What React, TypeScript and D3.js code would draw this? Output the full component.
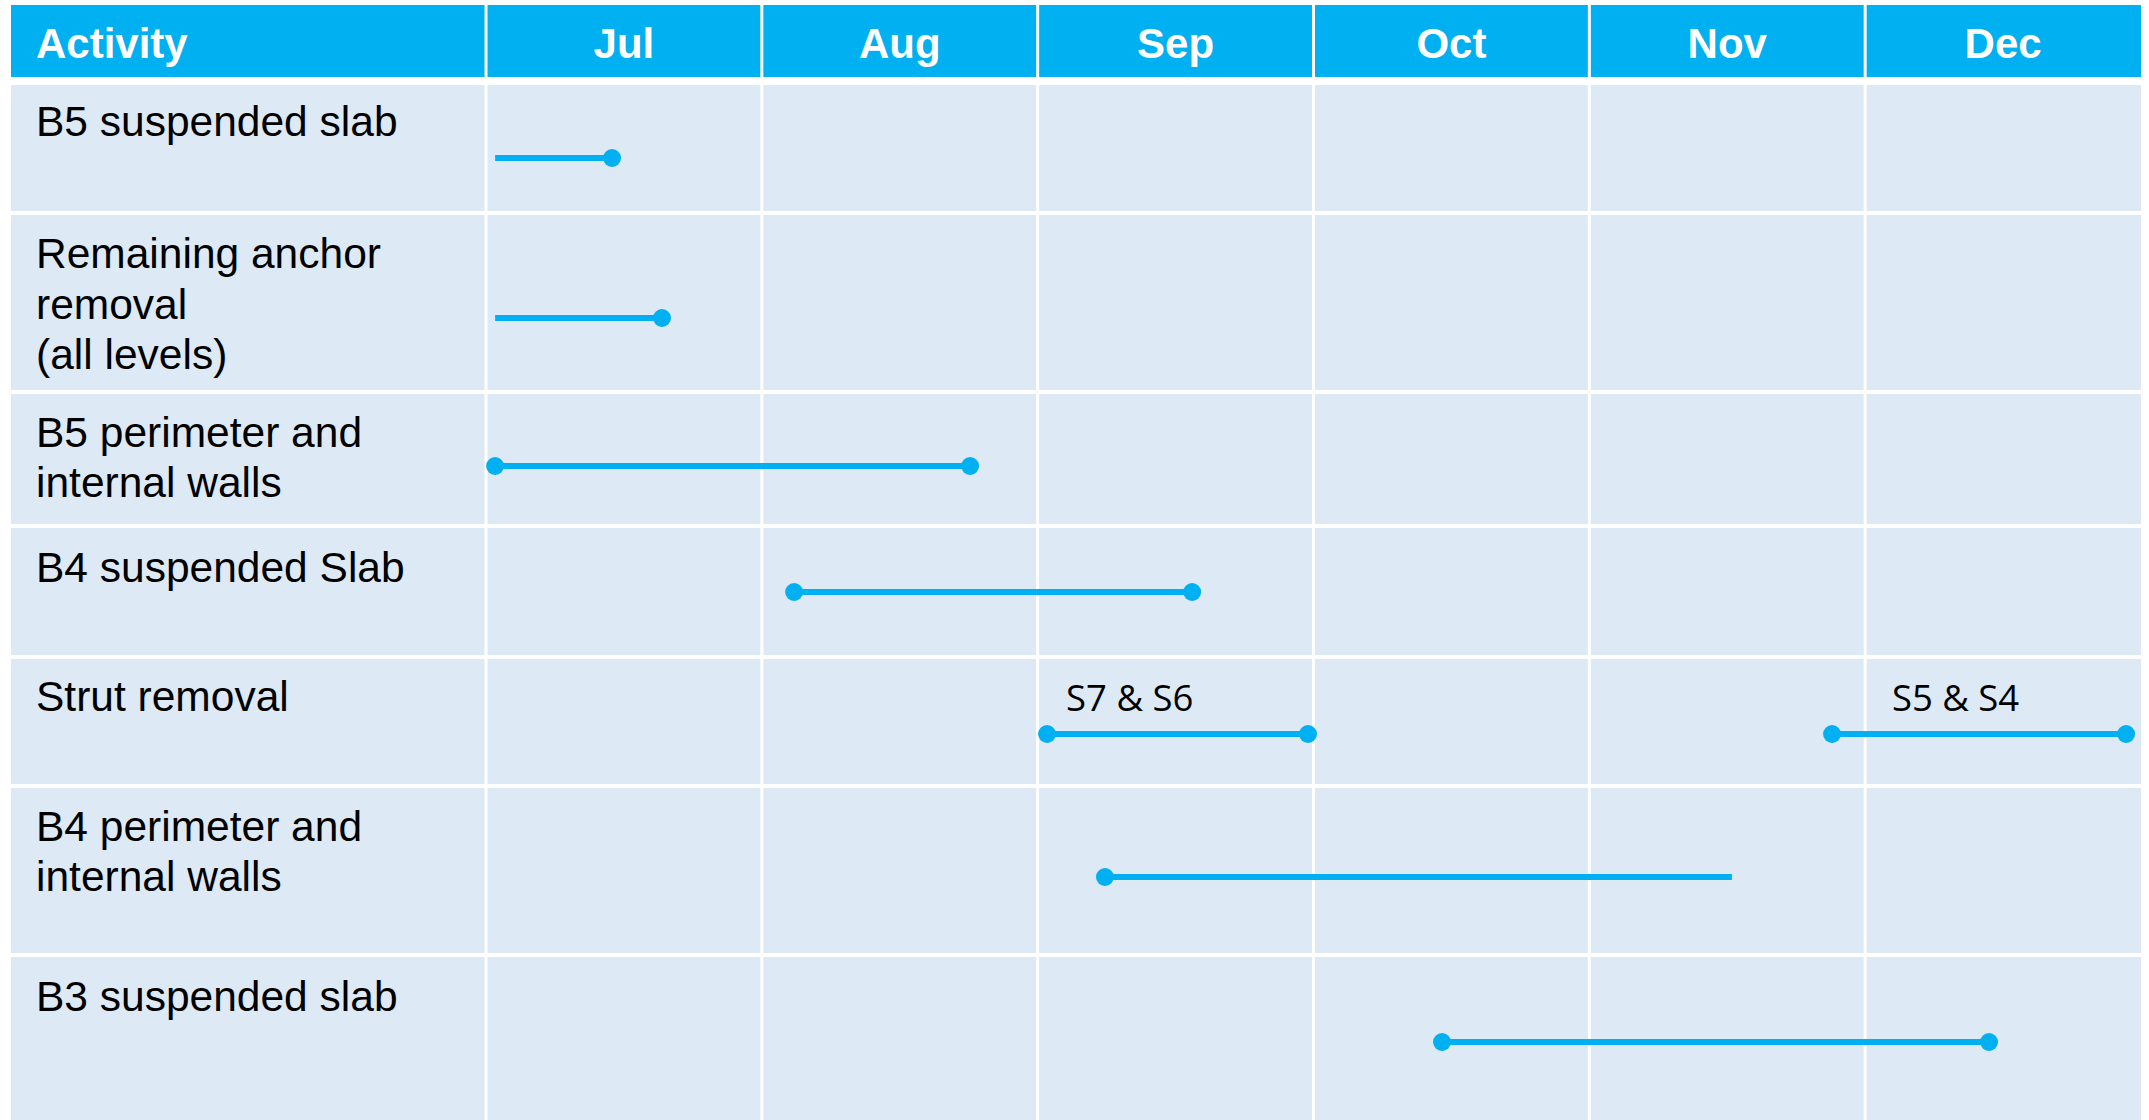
import React from "react";
import * as d3 from "d3";

// ---- data ----
const months = ["Jul", "Aug", "Sep", "Oct", "Nov", "Dec"];
const headerLabel = "Activity";
const activityLabels: string[][] = [
  ["B5 suspended slab"],
  ["Remaining anchor", "removal", "(all levels)"],
  ["B5 perimeter and", "internal walls"],
  ["B4 suspended Slab"],
  ["Strut removal"],
  ["B4 perimeter and", "internal walls"],
  ["B3 suspended slab"],
];
// tasks (time in months from 1 Jul)
const taskActivity = [0, 1, 2, 3, 4, 4, 5, 6];
const taskStart = [0.033, 0.033, 0.033, 1.117, 2.034, 4.88, 2.244, 3.466];
const taskEnd = [0.457, 0.638, 1.755, 2.56, 2.98, 5.946, 4.517, 5.449];
const taskStartDot = [false, false, true, true, true, true, true, true];
const taskEndDot = [true, true, true, true, true, true, false, true];
const taskNote = ["", "", "", "", "S7 & S6", "S5 & S4", "", ""];
const taskNoteAt = [0, 0, 0, 0, 2.103, 5.097, 0, 0];

// ---- layout ----
const W = 2149;
const H = 1120;
const left = 11;
const labelColRight = 486;
const right = 2141;
const headerTop = 5;
const headerBottom = 77;
const rowBounds = [85, 213, 392, 526, 657, 786, 955, 1120];
const rowLineY = [158, 318, 466, 592, 734, 877, 1042];
const rowLabelOffset = [51, 55, 54.5, 55.5, 54, 54.5, 55.5];
const BLUE = "#00B0F0";
const CELL = "#DDE9F5";
const ARIAL = "'Liberation Sans', Arial, sans-serif";

export default function App() {
  const x = d3.scaleLinear().domain([0, months.length]).range([labelColRight, right]);
  const y = d3.scaleOrdinal<number, number>().domain(d3.range(activityLabels.length)).range(rowLineY);
  const colEdges = [left, ...d3.range(months.length + 1).map((i) => x(i))];

  return (
    <svg
      width={W}
      height={H}
      style={{ position: "absolute", left: 0, top: 0, background: "#fff" }}
    >
      {/* header */}
      <rect x={left} y={headerTop} width={right - left} height={headerBottom - headerTop} fill={BLUE} />
      {/* body */}
      <rect x={left} y={rowBounds[0]} width={right - left} height={rowBounds[rowBounds.length - 1] - rowBounds[0]} fill={CELL} />
      {/* row dividers */}
      {rowBounds.slice(1, -1).map((b, i) => (
        <line key={"r" + i} x1={left} x2={right} y1={b} y2={b} stroke="#fff" strokeWidth={4} />
      ))}
      {/* column dividers */}
      {colEdges.slice(1, -1).map((cx, i) => (
        <line key={"c" + i} x1={cx} x2={cx} y1={headerTop} y2={H} stroke="#fff" strokeWidth={3} />
      ))}
      {/* header text */}
      <text x={36} y={57.5} fill="#fff" fontFamily={ARIAL} fontWeight="bold" fontSize={42}>
        {headerLabel}
      </text>
      {months.map((m, i) => (
        <text
          key={m}
          x={(x(i) + x(i + 1)) / 2}
          y={57.5}
          fill="#fff"
          fontFamily={ARIAL}
          fontWeight="bold"
          fontSize={42}
          textAnchor="middle"
        >
          {m}
        </text>
      ))}
      {/* activity labels */}
      {activityLabels.map((lines, i) => (
        <text key={"a" + i} x={36} y={rowBounds[i] + rowLabelOffset[i]} fill="#000" fontFamily={ARIAL} fontSize={42.5}>
          {lines.map((ln, j) => (
            <tspan key={j} x={36} dy={j === 0 ? 0 : 50.6}>
              {ln}
            </tspan>
          ))}
        </text>
      ))}
      {/* tasks */}
      {taskActivity.map((a, i) => {
        const yy = y(a);
        const x0 = x(taskStart[i]);
        const x1 = x(taskEnd[i]);
        return (
          <g key={"t" + i}>
            <line x1={x0} x2={x1} y1={yy} y2={yy} stroke={BLUE} strokeWidth={6} />
            {taskStartDot[i] && <circle cx={x0} cy={yy} r={9} fill={BLUE} />}
            {taskEndDot[i] && <circle cx={x1} cy={yy} r={9} fill={BLUE} />}
            {taskNote[i] && (
              <text x={x(taskNoteAt[i])} y={yy - 23} fontFamily="'Open Sans', sans-serif" fontSize={36.5} fill="#000">
                {taskNote[i]}
              </text>
            )}
          </g>
        );
      })}
    </svg>
  );
}
